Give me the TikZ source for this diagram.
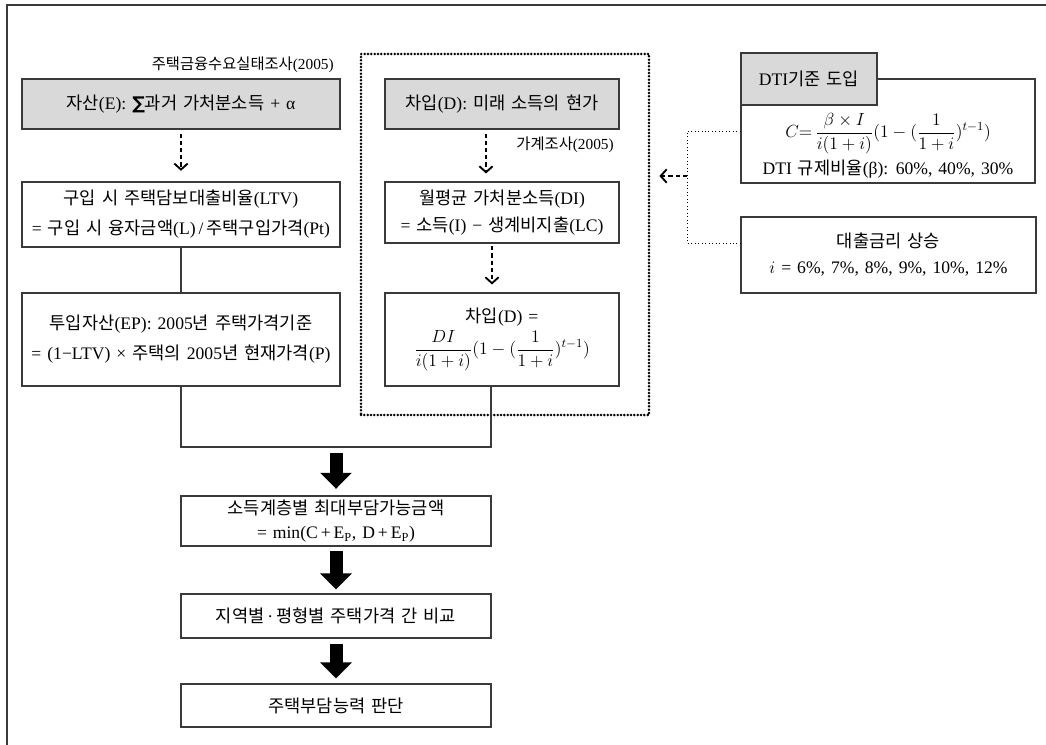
\RequirePackage{fix-cm}
\documentclass[tikz,border=0pt]{standalone}
\usepackage{fontspec}
\setmainfont{Liberation Serif}
\newfontfamily\krfont{Noto Sans CJK KR}
\newfontfamily\symfont{DejaVu Sans}
\XeTeXinterchartokenstate=1
\newXeTeXintercharclass\hangul
\makeatletter
\count@="AC00
\loop\ifnum\count@<"D7A4
  \XeTeXcharclass\count@=\hangul
  \advance\count@\@ne
\repeat
\makeatother
\XeTeXinterchartoks 0 \hangul = {\krfont}
\XeTeXinterchartoks 4095 \hangul = {\krfont}
\XeTeXinterchartoks \hangul 0 = {\rmfamily}
\XeTeXinterchartoks \hangul 4095 = {\rmfamily}
\newcommand\policeboite[1]{\fontsize{13.2}{#1}\selectfont\spaceskip=0.34em plus 0.1em minus 0.1em\relax}
\usetikzlibrary{arrows.meta}
\definecolor{trait}{HTML}{3A3A3A}
\definecolor{fond}{HTML}{D9D9D9}
\tikzset{boite/.style = {draw=trait, line width=0.8pt, inner sep=0pt, align=center,
                         font=\policeboite{20pt}},
         grise/.style = {boite, fill=fond},
         note/.style = {inner sep=0pt, font=\fontsize{11.5}{13}\selectfont},
         lien/.style = {draw=trait, line width=0.8pt},
         tirets/.style = {line width=0.9pt, dash pattern=on 3.2pt off 2.2pt,
                          -{Straight Barb[length=4.5pt,width=10pt,line width=1.4pt]}},
         grosse/.style = {line width=9.75pt, -{Triangle[length=12pt,width=23pt]}},
        }

\begin{document}
\begin{tikzpicture}[x=0.75pt,y=-0.75pt]
  \useasboundingbox (0,0) rectangle (1046,744);
  \draw[draw=trait, line width=1.2pt] (7,5) rectangle (1070,770);

  \node[draw, line width=2.1pt, line cap=round, dash pattern=on 0pt off 2.5pt,
        minimum width=216pt, minimum height=270.75pt, inner sep=0pt] (groupe) at (505,234.5) {};

  \node[note, anchor=east] (srcE) at (334,65) {주택금융수요실태조사(2005)};
  \node[note, anchor=east] (srcD) at (614,145) {가계조사(2005)};

  \node[grise, minimum width=238.5pt, minimum height=37.5pt] (actif) at (181,104)
       {자산(E): {\symfont\bfseries ∑}과거 가처분소득 + α};
  \node[boite, minimum width=238.5pt, minimum height=48.75pt,
        font=\policeboite{22.5pt}] (ltv) at (181,214.5)
       {구입 시 주택담보대출비율(LTV)\\= 구입 시 융자금액(L)\,/\,주택구입가격(Pt)};
  \node[boite, minimum width=238.5pt, minimum height=69.75pt,
        font=\policeboite{22.5pt}] (ep) at (181,339.5)
       {투입자산(EP): 2005년 주택가격기준\\= (1−LTV) × 주택의 2005년 현재가격(P)};

  \node[grise, minimum width=175.5pt, minimum height=37.5pt] (emprunt) at (502,104)
       {차입(D): 미래 소득의 현가};
  \node[boite, minimum width=175.5pt, minimum height=45.75pt] (di) at (502,212.5)
       {월평균 가처분소득(DI)\\= 소득(I) − 생계비지출(LC)};
  \node[boite, minimum width=175.5pt, minimum height=69.75pt,
        font=\policeboite{18pt}] (dform) at (502,339.5)
       {차입(D) =\\[2pt]$\displaystyle\frac{DI}{i(1+i)}(1-(\frac{1}{1+i})^{t-1})$};

  \node[boite, minimum width=220.5pt, minimum height=78pt] (corps) at (888,131) {};
  \node[grise, minimum width=102pt, minimum height=39pt] (dti) at (809,79) {DTI기준 도입};
  \node[inner sep=0pt, font=\policeboite{14pt}] (formC) at (888,134)
       {$\displaystyle C{=}\,\frac{\beta\times I}{i(1+i)}(1-(\frac{1}{1+i})^{t-1})$};
  \node[inner sep=0pt, font=\policeboite{14pt}] (ratio) at (888,169)
       {DTI 규제비율(β): 60\%, 40\%, 30\%};

  \node[boite, minimum width=221.25pt, minimum height=57pt, font=\policeboite{19.5pt}]
       (taux) at (888.5,255)
       {대출금리 상승\\$i$ = 6\%, 7\%, 8\%, 9\%, 10\%, 12\%};

  \node[boite, minimum width=232.5pt, minimum height=37.5pt,
        font=\policeboite{18pt}] (maxi) at (336,521)
       {소득계층별 최대부담가능금액\\= min(C\,+\,E\textsubscript{P}, D\,+\,E\textsubscript{P})};
  \node[boite, minimum width=232.5pt, minimum height=33pt] (compar) at (336,616)
       {지역별\,·\,평형별 주택가격 간 비교};
  \node[boite, minimum width=232.5pt, minimum height=32.25pt] (juge) at (336,705.5)
       {주택부담능력 판단};

  \draw[tirets, shorten <=3pt, shorten >=8pt] (actif.south) -- (ltv.north);
  \draw[tirets, shorten <=3pt, shorten >=6pt] ([xshift=-12pt]emprunt.south) -- ([xshift=-12pt]di.north);
  \draw[tirets, shorten <=2pt, shorten >=6pt] ([xshift=-7.5pt]di.south) -- ([xshift=-7.5pt]dform.north);

  \draw[lien] (ltv.south) -- (ep.north);
  \coordinate (bg) at (181,447);
  \coordinate (bd) at (491,447);
  \coordinate (jonction) at (336,447);
  \draw[lien] (ep.south) -- (bg) -- (bd) -- (bd |- dform.south);

  \coordinate (pivot) at (687,176);
  \draw[line width=0.6pt, dotted] (corps.west) -| (pivot) |- ([yshift=9pt]taux.west);
  \draw[tirets, shorten >=6.75pt] (pivot) -- (pivot -| groupe.east);

  \draw[grosse, shorten <=4.5pt, shorten >=5pt] (jonction) -- (maxi.north);
  \draw[grosse, shorten <=3.5pt, shorten >=3pt] (maxi.south) -- (compar.north);
  \draw[grosse, shorten <=3.75pt, shorten >=3.75pt] (compar.south) -- (juge.north);
\end{tikzpicture}
\end{document}
